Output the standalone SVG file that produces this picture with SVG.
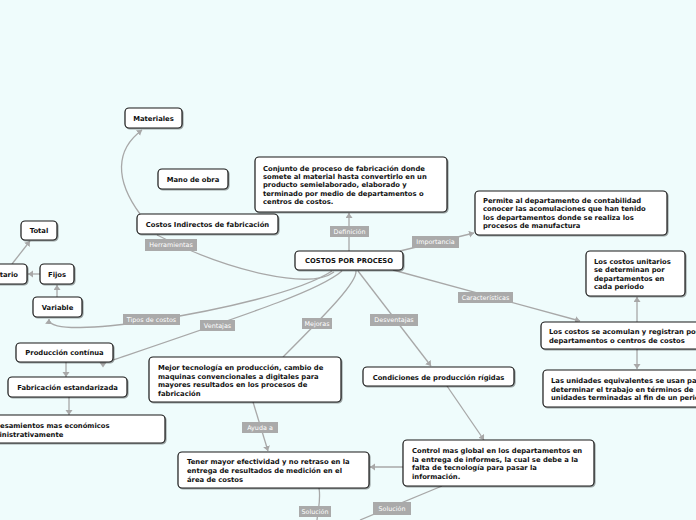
<svg xmlns="http://www.w3.org/2000/svg" width="696" height="520" viewBox="0 0 696 520">
<defs>
<style>
.n rect{fill:#fff;stroke:#1a1a1a;stroke-width:1.2;filter:url(#sh)}
.n text{font-family:"DejaVu Sans",Verdana,sans-serif;font-weight:bold;font-size:6.8px;fill:#111}
.c{text-anchor:middle}
.e path{fill:none;stroke:#a8a8a8;stroke-width:1.3}
.a{marker-end:url(#ar)}
.l rect{fill:#aaaaaa}
.l text{font-family:"DejaVu Sans",Verdana,sans-serif;font-size:6.4px;fill:#fff;text-anchor:middle}
</style>
<filter id="sh" x="-10%" y="-20%" width="130%" height="150%">
<feDropShadow dx="1" dy="1" stdDeviation="0.7" flood-color="#000" flood-opacity="0.35"/>
</filter>
<marker id="ar" markerUnits="userSpaceOnUse" markerWidth="6" markerHeight="8" refX="5" refY="3.5" orient="auto">
<path d="M0,0 L5,3.5 L0,7 z" fill="#a8a8a8"/>
</marker>
</defs>
<rect x="0" y="0" width="696" height="520" fill="#effcfc"/>

<g id="connectors" class="e">
<path class="a" d="M349,251 L349,213"/>
<path class="a" d="M400,251 L474,233"/>
<path class="a" d="M393,270 L580,321"/>
<path class="a" d="M637,322 L637,297"/>
<path class="a" d="M637,349 L637,369"/>
<path class="a" d="M358,271 L431,366"/>
<path d="M356,271 C357,282 330,310 283,357"/>
<path d="M342,271 C320,290 260,310 113,360"/>
<polygon points="99.5,362.5 106.5,362.5 103,367.5" fill="#a8a8a8" stroke="none"/>
<path class="a" d="M332,271 C300,292 220,310 150,321 C100,328 48,332 49,319"/>
<path d="M334,272 C310,290 230,272 157,235"/>
<path class="a" d="M140,214 C115,180 115,150 142,130"/>
<path class="a" d="M40,274 L28,274"/>
<path class="a" d="M57,297 L57,285"/>
<path class="a" d="M12,264 L30,241"/>
<path class="a" d="M66,362 L66,377"/>
<path class="a" d="M69,397 L69,415"/>
<path class="a" d="M253,402 L268,451"/>
<path class="a" d="M447,386 L484,440"/>
<path class="a" d="M403,467 L370,467"/>
<path d="M442,486 L360,520"/>
<path d="M319,488 C321,500 318,510 317,520"/>
<g class="l">
<rect x="330" y="226" width="39" height="11"/><text x="349.5" y="233.7">Definición</text>
<rect x="412" y="236" width="47" height="12"/><text x="435.5" y="244.2">Importancia</text>
<rect x="458" y="292" width="55" height="11"/><text x="485.5" y="299.7">Características</text>
<rect x="145" y="239" width="52" height="12"/><text x="171" y="247.2">Herramientas</text>
<rect x="123" y="314" width="57" height="11"/><text x="151.5" y="321.7">Tipos de costos</text>
<rect x="200" y="320" width="35" height="11"/><text x="217.5" y="327.7">Ventajas</text>
<rect x="302" y="318" width="30" height="11"/><text x="317" y="325.7">Mejoras</text>
<rect x="370" y="314" width="48" height="12"/><text x="394" y="322.2">Desventajas</text>
<rect x="242" y="422" width="36" height="11"/><text x="260" y="429.7">Ayuda a</text>
<rect x="373" y="502" width="38" height="13"/><text x="392" y="510.7">Solución</text>
<rect x="299" y="506" width="32" height="11"/><text x="315" y="513.7">Solución</text>
</g>
</g>

<g id="n-materiales" class="n"><rect x="125" y="108" width="57" height="20" rx="4"/><text class="c" x="153.5" y="120.5">Materiales</text></g>
<g id="n-mano" class="n"><rect x="158" y="169" width="70" height="20" rx="4"/><text class="c" x="193" y="181.5">Mano de obra</text></g>
<g id="n-cif" class="n"><rect x="137" y="214" width="141" height="20" rx="4"/><text class="c" x="207.5" y="226.5">Costos Indirectos de fabricación</text></g>
<g id="n-definicion" class="n"><rect x="255" y="157" width="192" height="55" rx="4"/>
<text x="263" y="170.7">Conjunto de proceso de fabricación donde</text>
<text x="263" y="179">somete al material hasta convertirlo en un</text>
<text x="263" y="187.4">producto semielaborado, elaborado y</text>
<text x="263" y="195.7">terminado por medio de departamentos o</text>
<text x="263" y="204">centros de costos.</text></g>
<g id="n-root" class="n"><rect x="295" y="251" width="108" height="19" rx="4"/><text class="c" x="349" y="263">COSTOS POR PROCESO</text></g>
<g id="n-importancia" class="n"><rect x="475" y="191" width="192" height="44" rx="4"/>
<text x="483" y="202.5">Permite al departamento de contabilidad</text>
<text x="483" y="211">conocer las acomulaciones que han tenido</text>
<text x="483" y="219.5">los departamentos donde se realiza los</text>
<text x="483" y="228">procesos de manufactura</text></g>
<g id="n-unitarios" class="n"><rect x="586" y="251" width="99" height="45" rx="4"/>
<text x="594" y="263.5">Los costos unitarios</text>
<text x="594" y="272">se determinan por</text>
<text x="594" y="280.5">departamentos en</text>
<text x="594" y="289">cada periodo</text></g>
<g id="n-acumulan" class="n"><rect x="541" y="322" width="175" height="27" rx="4"/>
<text x="549" y="334">Los costos se acomulan y registran por</text>
<text x="549" y="343">departamentos o centros de costos</text></g>
<g id="n-equivalentes" class="n"><rect x="543" y="370" width="175" height="37" rx="4"/>
<text x="551" y="382.5">Las unidades equivalentes se usan para</text>
<text x="551" y="391.5">determinar el trabajo en términos de</text>
<text x="551" y="400">unidades terminadas al fin de un periodo</text></g>
<g id="n-condiciones" class="n"><rect x="363" y="367" width="151" height="19" rx="4"/><text class="c" x="438.5" y="379.5">Condiciones de producción rígidas</text></g>
<g id="n-control" class="n"><rect x="403" y="440" width="191" height="46" rx="4"/>
<text x="412" y="453">Control mas global en los departamentos en</text>
<text x="412" y="461.5">la entrega de informes, la cual se debe a la</text>
<text x="412" y="470">falta de tecnología para pasar la</text>
<text x="412" y="478.5">información.</text></g>
<g id="n-tener" class="n"><rect x="178" y="452" width="191" height="36" rx="4"/>
<text x="187" y="464">Tener mayor efectividad y no retraso en la</text>
<text x="187" y="473">entrega de resultados de medición en el</text>
<text x="187" y="481.5">área de costos</text></g>
<g id="n-mejor" class="n"><rect x="149" y="357" width="192" height="45" rx="4"/>
<text x="158" y="370">Mejor tecnología en producción, cambio de</text>
<text x="158" y="378.5">maquinas convencionales a digitales para</text>
<text x="158" y="387">mayores resultados en los procesos de</text>
<text x="158" y="395.5">fabricación</text></g>
<g id="n-produccion" class="n"><rect x="16" y="343" width="97" height="19" rx="4"/><text class="c" x="64.5" y="355">Producción contínua</text></g>
<g id="n-fabricacion" class="n"><rect x="8" y="377" width="119" height="20" rx="4"/><text class="c" x="67.5" y="389.5">Fabricación estandarizada</text></g>
<g id="n-procesamientos" class="n"><rect x="-25" y="415" width="190" height="28" rx="4"/>
<text x="-17" y="428">Procesamientos mas económicos</text>
<text x="-17" y="436.5">administrativamente</text></g>
<g id="n-variable" class="n"><rect x="33" y="297" width="49" height="20" rx="4"/><text class="c" x="57.5" y="309.5">Variable</text></g>
<g id="n-fijos" class="n"><rect x="40" y="264" width="34" height="20" rx="4"/><text class="c" x="57" y="276.5">Fijos</text></g>
<g id="n-unitario" class="n"><rect x="-22" y="264" width="49" height="20" rx="4"/><text class="c" x="2.5" y="276.5">Unitario</text></g>
<g id="n-total" class="n"><rect x="21" y="221" width="36" height="19" rx="4"/><text class="c" x="39" y="233">Total</text></g>
</svg>
